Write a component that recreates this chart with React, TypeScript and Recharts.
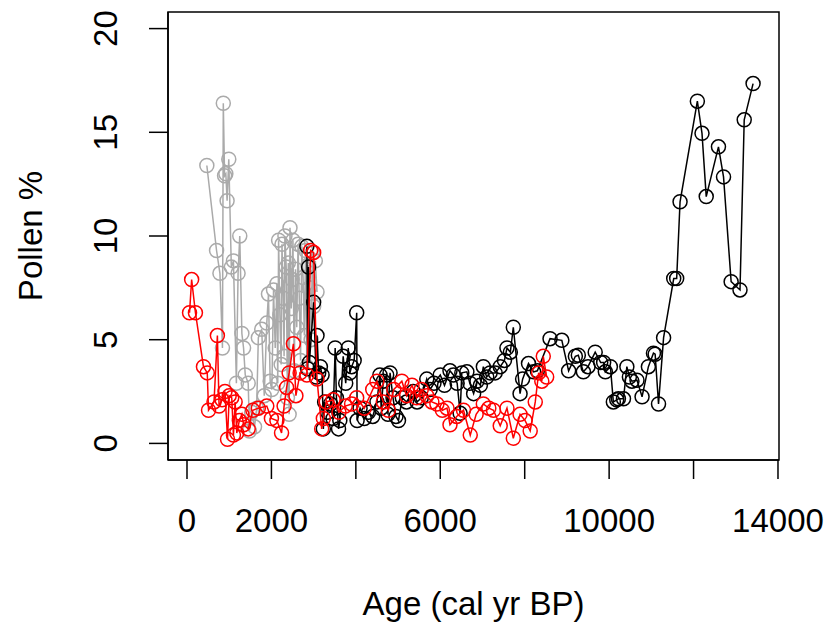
import { ScatterChart, Scatter, XAxis, YAxis, ReferenceArea } from 'recharts';

// ages in cal yr BP, values in pollen %
const xTicks = [0, 2000, 4000, 6000, 8000, 10000, 12000, 14000];
const xTickLabels = [0, 2000, 6000, 10000, 14000]; // R drops labels that would overlap
const yTicks = [0, 5, 10, 15, 20];

const graySeries: [number, number][] = [
  [470, 13.4], [700, 9.3], [780, 8.2], [840, 4.6], [860, 16.4], [890, 12.9], [920, 13.0],
  [950, 11.7], [990, 13.7], [1050, 8.5], [1100, 8.8], [1170, 2.9], [1210, 8.2], [1250, 10.0],
  [1300, 5.3], [1340, 4.6], [1380, 3.3], [1450, 2.9], [1480, 0.6], [1530, 1.5], [1600, 0.8],
  [1650, 1.7], [1690, 5.1], [1770, 5.5], [1830, 2.3], [1890, 5.8], [1930, 7.2], [1970, 3.0],
  [2010, 2.6], [2050, 7.4], [2090, 4.6], [2130, 7.7], [2150, 2.9], [2170, 9.8], [2200, 6.2],
  [2230, 3.8], [2250, 9.6], [2280, 7.0], [2300, 4.2], [2320, 10.0], [2350, 8.5], [2380, 2.2],
  [2400, 8.7], [2420, 1.4], [2440, 10.4], [2470, 6.5], [2490, 7.9], [2510, 9.8], [2540, 3.5],
  [2570, 8.4], [2600, 5.6], [2630, 9.6], [2660, 7.0], [2690, 4.0], [2720, 9.5], [2750, 8.0],
  [2780, 5.2], [2810, 9.3], [2840, 3.7], [2870, 8.6], [2900, 7.5], [2940, 5.0], [2970, 9.2],
  [3000, 6.6], [3040, 8.8], [3080, 7.3],
];

const blackSeries: [number, number][] = [
  [2840, 9.5], [2860, 3.6], [2880, 8.5], [2900, 3.9], [3000, 6.8], [3060, 3.2], [3080, 5.2],
  [3120, 3.4], [3160, 3.7], [3200, 3.3], [3230, 0.7], [3260, 2.0],
  [3330, 1.5], [3400, 1.9], [3460, 1.2], [3510, 4.6], [3540, 2.2], [3590, 0.7], [3620, 1.1],
  [3700, 4.2], [3760, 2.9], [3820, 4.6], [3860, 3.4], [3900, 3.7], [3960, 4.0], [4020, 6.3],
  [4030, 1.1], [4100, 1.7], [4200, 1.2], [4300, 1.5], [4400, 1.3], [4500, 2.0], [4570, 3.3],
  [4600, 1.7], [4650, 3.0], [4730, 3.3], [4760, 1.4], [4810, 3.4], [4880, 2.2], [4950, 1.3],
  [5010, 1.1], [5100, 2.2], [5200, 2.0], [5360, 2.5], [5450, 2.0], [5550, 2.2], [5680, 3.1],
  [5760, 2.6], [5850, 2.9], [6000, 3.3], [6100, 2.8], [6230, 3.5], [6310, 3.3], [6400, 2.9],
  [6470, 1.45], [6510, 3.4], [6630, 3.45], [6700, 2.9], [6790, 2.4], [6870, 3.0], [6950, 2.8],
  [7020, 3.7], [7100, 3.2], [7180, 3.4], [7300, 3.4], [7420, 3.7], [7520, 4.0], [7580, 4.6],
  [7660, 4.4], [7730, 5.6], [7890, 2.4], [7950, 3.1], [8090, 3.85], [8210, 3.45], [8300, 3.5],
  [8600, 5.05], [8880, 4.97], [9040, 3.5], [9200, 4.2], [9270, 4.25], [9390, 3.45], [9500, 3.7],
  [9670, 4.4], [9800, 3.9], [9870, 3.9], [9910, 3.45], [10030, 3.7], [10100, 2.0], [10180, 2.1],
  [10220, 2.15], [10340, 2.15], [10420, 3.7], [10480, 3.2], [10540, 3.0], [10660, 3.05],
  [10780, 2.25], [10930, 3.7], [11050, 4.35], [11090, 4.3], [11170, 1.9], [11290, 5.1],
  [11530, 7.95], [11600, 7.95], [11680, 11.65], [12090, 16.5], [12200, 14.95], [12300, 11.9],
  [12590, 14.3], [12710, 12.85], [12890, 7.8], [13100, 7.4], [13200, 15.6], [13410, 17.35],
];

const redSeries: [number, number][] = [
  [60, 6.3], [110, 7.9], [200, 6.3], [390, 3.7], [480, 3.4], [510, 1.6], [640, 2.0], [720, 5.2],
  [760, 1.8], [830, 2.1], [900, 2.5], [960, 0.2], [1000, 2.3], [1060, 2.2], [1100, 0.4],
  [1140, 2.0], [1180, 0.5], [1240, 1.1], [1300, 1.4], [1340, 0.9], [1450, 0.7], [1560, 1.6],
  [1690, 1.7], [1890, 1.8], [2000, 1.2], [2130, 1.1], [2240, 0.5], [2300, 1.8], [2360, 2.7],
  [2420, 3.4], [2520, 4.8], [2580, 2.3], [2680, 3.4], [2840, 3.3], [2930, 9.3], [3000, 9.2],
  [3080, 3.1], [3190, 0.7], [3230, 1.2], [3300, 2.0], [3460, 2.1], [3600, 1.5], [3750, 1.8],
  [3900, 1.9], [4020, 2.2], [4200, 1.7], [4400, 2.6], [4500, 3.0], [4650, 2.0], [4770, 1.6],
  [4900, 2.6], [5090, 3.0], [5200, 2.3], [5330, 2.8], [5440, 2.2], [5550, 2.6], [5680, 2.3],
  [5800, 2.0], [5920, 1.9], [6050, 1.6], [6160, 1.7], [6230, 0.9], [6390, 1.3], [6550, 1.6],
  [6710, 0.4], [6850, 1.4], [7020, 1.9], [7150, 1.7], [7260, 1.6], [7420, 0.85], [7580, 1.7],
  [7730, 0.25], [7890, 1.4], [8010, 1.1], [8130, 0.6], [8250, 2.0], [8330, 3.4], [8405, 3.0],
  [8440, 4.2], [8520, 3.2],
];

const FONT = '"Liberation Sans", Arial, Helvetica, sans-serif';
const FONT_SIZE = 33;
const X_MIN = -450;
const X_MAX = 14024;
const Y_MIN = -0.8;
const Y_MAX = 20.8;

const toPoints = (s: [number, number][]) => s.map(([age, pct]) => ({ age, pct }));

const ring = (color: string) => (props: any) => (
  <circle cx={props.cx} cy={props.cy} r={7} fill="none" stroke={color} strokeWidth={1.5} />
);

function XTick({ x, payload }: any) {
  if (!xTickLabels.includes(payload.value)) return null;
  return (
    <text x={x} y={532} textAnchor="middle" fontSize={FONT_SIZE} fontFamily={FONT} fill="#000">
      {payload.value}
    </text>
  );
}

function YTick({ y, payload }: any) {
  const tx = 117;
  return (
    <text x={tx} y={y} transform={`rotate(-90, ${tx}, ${y})`} textAnchor="middle" fontSize={FONT_SIZE} fontFamily={FONT} fill="#000">
      {payload.value}
    </text>
  );
}

export default function App() {
  return (
    <div style={{ position: 'absolute', left: 0, top: 0, background: '#fff' }}>
      <ScatterChart width={828} height={627} margin={{ top: 12, right: 49, left: 0, bottom: 0 }}>
        <XAxis
          type="number"
          dataKey="age"
          domain={[X_MIN, X_MAX]}
          allowDataOverflow
          ticks={xTicks}
          interval={0}
          height={167}
          tickSize={19}
          tick={<XTick />}
          stroke="#000"
          strokeWidth={1.5}
          label={() => (
            <text x={473.5} y={615} textAnchor="middle" fontSize={FONT_SIZE} fontFamily={FONT} fill="#000">
              Age (cal yr BP)
            </text>
          )}
        />
        <YAxis
          type="number"
          dataKey="pct"
          domain={[Y_MIN, Y_MAX]}
          allowDataOverflow
          ticks={yTicks}
          interval={0}
          width={168}
          tickSize={19}
          tick={<YTick />}
          stroke="#000"
          strokeWidth={1.5}
          label={() => (
            <text x={42} y={236} transform="rotate(-90, 42, 236)" textAnchor="middle" fontSize={FONT_SIZE} fontFamily={FONT} fill="#000">
              Pollen %
            </text>
          )}
        />
        <ReferenceArea x1={X_MIN} x2={X_MAX} y1={Y_MIN} y2={Y_MAX} fill="none" stroke="#000" strokeWidth={1.5} ifOverflow="visible" />
        <Scatter data={toPoints(graySeries)} line={{ stroke: '#aaaaaa', strokeWidth: 1.5 }} shape={ring('#aaaaaa')} isAnimationActive={false} />
        <Scatter data={toPoints(blackSeries)} line={{ stroke: '#000000', strokeWidth: 1.5 }} shape={ring('#000000')} isAnimationActive={false} />
        <Scatter data={toPoints(redSeries)} line={{ stroke: '#ff0000', strokeWidth: 1.5 }} shape={ring('#ff0000')} isAnimationActive={false} />
      </ScatterChart>
    </div>
  );
}
